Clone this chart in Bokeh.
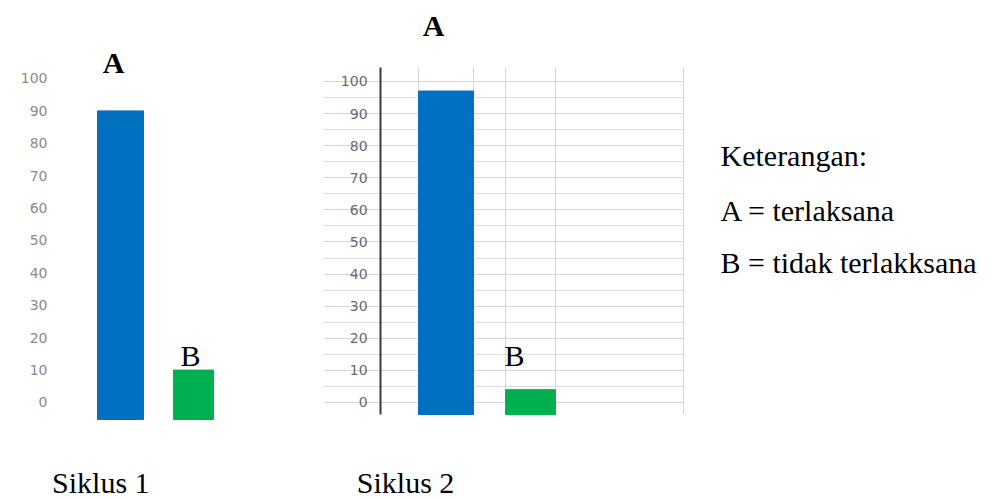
from bokeh.plotting import figure
from bokeh.layouts import row
from bokeh.models import Range1d, FixedTicker, Label, ColumnDataSource
from bokeh.embed import file_html
from bokeh.resources import INLINE

# ---- data ----
categories = ["A", "B"]
siklus1_values = [90, 10]
siklus2_values = [97, 4]
y_ticks = [0, 10, 20, 30, 40, 50, 60, 70, 80, 90, 100]
cycle_labels = ["Siklus 1", "Siklus 2"]
legend_lines = ["Keterangan:", "A = terlaksana", "B = tidak terlakksana"]

# ---- style ----
bar_colors = ["#0070C0", "#00B050"]
SERIF = "Liberation Serif"
H = 498


def style_yaxis(p, size, color):
    p.yaxis.ticker = FixedTicker(ticks=y_ticks)
    p.yaxis.major_label_text_font = "DejaVu Sans"
    p.yaxis.major_label_text_font_size = size
    p.yaxis.major_label_text_color = color
    p.yaxis.major_tick_line_color = None
    p.yaxis.minor_tick_line_color = None
    p.yaxis.major_label_standoff = 7


def add_text(p, x, y, txt, size, bold=False, align="center"):
    p.add_layout(Label(x=x, y=y, text=txt,
                       text_font=SERIF, text_font_size=size,
                       text_font_style="bold" if bold else "normal",
                       text_align=align, text_baseline="middle",
                       text_color="black"))


# ---- Siklus 1 ----
y1_start, y1_end = -29.63, 124.07
base1 = -5.25
p1 = figure(width=260, height=H, x_range=Range1d(-1.644, 1.918),
            y_range=Range1d(y1_start, y1_end), output_backend="svg",
            toolbar_location=None, x_axis_location=None,
            min_border_left=0, min_border_right=0,
            min_border_top=0, min_border_bottom=0)
src1 = ColumnDataSource(dict(x=list(range(len(categories))), top=siklus1_values,
                             bottom=[base1] * len(categories),
                             w=[0.63, 0.55], color=bar_colors, cat=categories))
p1.vbar(x="x", top="top", bottom="bottom", width="w", color="color", source=src1)
style_yaxis(p1, "14px", "#8a8a8a")
p1.yaxis.axis_line_color = None
p1.yaxis.fixed_location = -0.822
p1.grid.visible = False
p1.outline_line_color = None
add_text(p1, -0.096, 104.9, categories[0], "30px", bold=True)
add_text(p1, 0.959, 14.5, categories[1], "30px")
add_text(p1, -0.27, -24.7, cycle_labels[0], "30px")

# ---- Siklus 2 ----
y2_start, y2_end = -29.9, 125.2
x2_start, x2_end = -1.45, 2.822
axis_lo, axis_hi = -3.74, 104.4
p2 = figure(width=440, height=H, x_range=Range1d(x2_start, x2_end),
            y_range=Range1d(y2_start, y2_end), output_backend="svg",
            toolbar_location=None, x_axis_location=None,
            min_border_left=63, min_border_right=16,
            min_border_top=0, min_border_bottom=0)
w2 = [0.65, 0.59]
xs2 = list(range(len(categories)))
src2 = ColumnDataSource(dict(x=xs2, top=siklus2_values,
                             bottom=[axis_lo] * len(categories),
                             w=w2, color=bar_colors, cat=categories))
style_yaxis(p2, "14px", "#6a6a6a")
p2.yaxis.ticker = FixedTicker(ticks=y_ticks, minor_ticks=[t + 5 for t in y_ticks[:-1]])
p2.yaxis.axis_line_color = "#3a3a3a"
p2.yaxis.axis_line_width = 2
p2.yaxis.bounds = (axis_lo, axis_hi)
p2.yaxis.fixed_location = -0.775
p2.xgrid.visible = False
p2.ygrid.grid_line_color = "#d4d6dc"
p2.ygrid.minor_grid_line_color = "#dcdee4"
p2.outline_line_color = None
edges = []
for xi, wi in zip(xs2, w2):
    edges += [xi - wi / 2, xi + wi / 2]
edges.append(2.81)
p2.segment(x0=edges, x1=edges, y0=[axis_lo] * len(edges), y1=[axis_hi] * len(edges),
           line_color="#d4d6dc", line_width=1)
p2.vbar(x="x", top="top", bottom="bottom", width="w", color="color", source=src2)
add_text(p2, -0.148, 117.4, categories[0], "30px", bold=True)
add_text(p2, 0.81, 14.6, categories[1], "30px")
add_text(p2, -0.479, -24.9, cycle_labels[1], "30px")

# ---- legend text ----
p3 = figure(width=286, height=H, x_range=Range1d(0, 286), y_range=Range1d(H, 0),
            output_backend="svg", toolbar_location=None,
            x_axis_location=None, y_axis_location=None, min_border=0)
p3.grid.visible = False
p3.outline_line_color = None
for txt, yy in zip(legend_lines, [155, 210, 262]):
    add_text(p3, 20, yy, txt, "30px", align="left")

layout = row(p1, p2, p3)
open("out.html", "w").write(file_html(layout, INLINE))
